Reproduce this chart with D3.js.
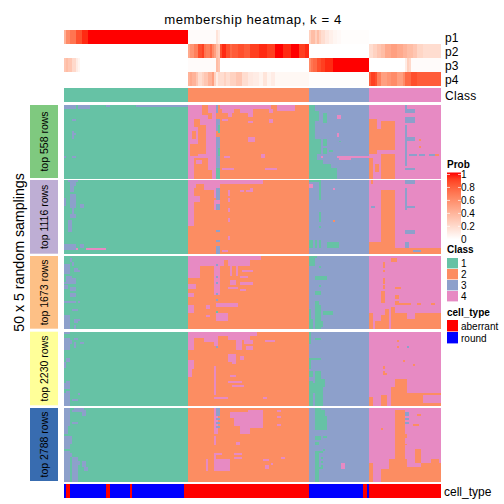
<!DOCTYPE html>
<html><head><meta charset="utf-8">
<script src="https://cdnjs.cloudflare.com/ajax/libs/d3/7.8.5/d3.min.js"></script>
<style>html,body{margin:0;padding:0;background:#fff}svg{display:block}text{font-family:"Liberation Sans",Arial,sans-serif;fill:#000}</style>
</head><body><svg id="c" width="504" height="504"></svg>
<script>
const groupSizes=[62,60,30,36];
const classColors=["#66C2A5","#FC8D62","#8DA0CB","#E78AC3"];
const classLabels=["1","2","3","4"];
const blockNames=["top 558 rows","top 1116 rows","top 1673 rows","top 2230 rows","top 2788 rows"];
const blockColors=["#7FC97F","#BEAED4","#FDC086","#FFFF99","#386CB0"];
const probTicks=[0,0.2,0.4,0.6,0.8,1];
const probNames=["p1","p2","p3","p4"];
const cellTypes=["aberrant","round"];
const cellColors=["#FF0000","#0000FF"];
// membership probabilities as [run length, value]
const p1=[[1,.4],[2,.6],[3,.7],[3,.85],[3,.95],[50,1],[14,.02],[1,.15],[1,.08],[44,0],[1,.25],[2,.35],[1,.25],[1,.35],[1,.25],[2,.18],[2,.12],[2,.08],[2,.05],[2,.03],[14,.01],[36,0]];
const p2=[[62,0],[1,.45],[2,.55],[2,.65],[2,.85],[1,.9],[1,.7],[2,.65],[1,.75],[1,.6],[1,.5],[1,.35],[1,.3],[1,.85],[2,.95],[2,.85],[1,.75],[3,.8],[3,.85],[3,.8],[4,.9],[4,.95],[4,.9],[4,1],[4,.95],[4,1],[3,.9],[2,.95],[30,0],[2,.18],[2,.24],[2,.3],[2,.35],[3,.45],[3,.5],[3,.45],[2,.4],[3,.35],[2,.3],[3,.22],[9,.18]];
const p3=[[1,.3],[1,.35],[2,.3],[2,.2],[1,.1],[1,.05],[54,0],[14,.02],[1,.35],[1,.3],[44,0],[1,.6],[1,.7],[2,.75],[2,.85],[2,.9],[4,.95],[18,1],[18,0],[1,.1],[1,.25],[1,.2],[15,.02]];
const p4=[[62,0],[1,.4],[1,.45],[2,.4],[1,.3],[2,.18],[1,.24],[2,.3],[2,.4],[1,.5],[1,.24],[1,.1],[3,.18],[1,.24],[2,.18],[3,.24],[3,.3],[3,.18],[2,.12],[3,.1],[2,.06],[2,.14],[2,.06],[2,.1],[17,.04],[30,.01],[1,.8],[2,.9],[1,.85],[2,.65],[3,.5],[2,.55],[3,.6],[3,.5],[1,.6],[3,.75],[3,.85],[12,.8]];
// cell type as [run length, index]
const cellRuns=[[1,1],[2,0],[18,1],[2,0],[10,1],[1,0],[26,1],[62,0],[27,1],[2,0],[1,1],[36,0]];
// deviating cells: [group,row0,row1,col0,col1,class]
const dev558=[[0,0,1,0,5,3],[0,0,1,7,9,3],[0,0,1,10,12,3],[0,0,0,21,22,3],[0,0,0,36,61,3],[0,7,7,4,5,3],[0,13,16,4,4,3],[0,14,14,5,5,3],[0,26,26,0,0,3],[0,26,26,4,5,3],
[1,0,26,0,13,4],[1,0,4,7,9,2],[1,7,10,3,5,2],[1,10,24,5,8,2],[1,13,16,2,3,2],[1,20,25,1,4,2],[1,4,6,10,11,2],[1,26,36,0,2,4],[1,28,29,4,6,4],[1,27,32,10,13,4],[1,32,36,12,13,4],[1,0,3,14,14,3],[1,7,12,14,15,3],[1,16,31,14,15,3],[1,10,13,15,15,1],[1,22,25,15,15,1],[1,32,36,14,15,1],[1,0,1,16,40,4],[1,2,3,17,22,4],[1,2,3,26,30,4],[1,4,5,20,21,4],[1,2,5,30,31,4],[1,0,2,44,52,4],[1,7,7,17,19,4],[1,8,8,30,31,4],[1,16,18,30,32,4],[1,26,26,18,20,4],[1,25,26,36,37,4],[1,32,32,17,22,4],[1,32,32,38,43,4],[1,2,3,40,41,4],[1,7,8,40,41,4],
[2,0,36,0,2,1],[2,3,7,3,4,1],[2,4,7,7,8,1],[2,8,8,7,8,1],[2,17,36,3,3,1],[2,17,24,4,5,1],[2,17,20,7,8,1],[2,22,24,7,8,1],[2,23,23,10,11,1],[2,28,36,3,6,1],[2,30,36,7,10,1],[2,32,36,10,13,1],[2,5,6,14,15,4],[2,14,15,14,14,4],[2,18,18,15,15,1],[2,26,26,6,6,4],[2,26,26,14,29,4],[2,27,27,15,20,4],
[3,7,24,0,3,2],[3,8,22,6,12,2],[3,12,22,4,5,2],[3,27,36,0,1,2],[3,25,36,6,12,2],[3,30,33,3,4,2],[3,0,3,18,18,3],[3,2,3,18,22,3],[3,6,8,18,22,3],[3,10,24,18,18,3],[3,16,17,18,22,3],[3,25,30,18,18,3],[3,25,25,20,23,3],[3,25,25,25,27,3],[3,25,25,30,32,3],[3,25,25,33,34,2],[3,17,17,25,25,2],[3,21,21,25,25,2],[3,32,32,18,22,3]];
const dev1116=[[0,0,0,2,6,3],[0,1,2,3,5,3],[0,3,5,3,4,3],[0,7,13,3,5,3],[0,9,12,0,0,3],[0,12,13,8,9,3],[0,17,18,3,5,3],[0,20,25,2,3,3],[0,13,16,4,4,3],[0,32,34,0,5,3],[0,32,33,8,9,3],[0,34,34,6,6,4],[0,34,34,11,20,4],
[1,0,1,0,36,4],[1,1,3,0,3,4],[1,2,4,8,14,4],[1,4,22,0,2,4],[1,0,8,13,15,4],[1,10,14,13,15,4],[1,5,5,26,27,4],[1,5,5,29,30,4],[1,4,5,31,31,4],[1,4,9,14,15,3],[1,12,14,14,15,3],[1,25,25,14,15,3],[1,30,30,14,15,3],[1,33,36,14,15,3],[1,35,35,17,19,4],[1,5,7,20,20,4],[1,9,10,20,20,4],[1,14,15,20,20,4],[1,19,20,20,20,4],[1,28,29,20,20,4],[1,8,10,3,5,4],
[2,0,0,0,5,1],[2,0,9,5,5,1],[2,16,20,5,5,1],[2,23,23,5,5,1],[2,30,33,5,5,1],[2,30,33,0,1,1],[2,30,33,3,3,1],[2,31,33,9,14,1],[2,2,3,0,1,4],[2,4,4,12,12,4],[2,20,20,12,12,2],
[3,5,30,6,12,2],[3,31,36,0,12,2],[3,34,36,13,36,2],[3,0,1,18,22,3],[3,0,1,1,1,2],[3,4,14,18,18,3],[3,13,13,18,22,3],[3,25,26,18,22,3],[3,31,33,18,19,3],[3,35,35,22,25,3],[3,13,13,1,2,3]];
const dev1673=[[0,4,8,0,2,3],[0,6,7,5,6,3],[0,10,12,1,3,3],[0,11,13,4,5,3],[0,13,13,0,3,3],[0,15,16,0,1,3],[0,16,17,3,5,3],[0,19,20,3,5,3],[0,23,23,0,3,3],[0,23,23,4,5,3],[0,23,23,7,7,3],[0,27,27,4,6,3],[0,30,36,0,2,3],[0,32,33,5,6,3],[0,35,36,5,5,3],[0,32,32,7,7,3],[0,7,7,7,7,3],[0,1,2,3,3,3],[0,3,4,4,4,3],
[1,0,4,0,13,4],[1,5,10,0,5,4],[1,0,19,13,15,4],[1,0,1,16,35,4],[1,2,4,16,17,4],[1,2,4,20,30,4],[1,5,9,21,21,4],[1,5,9,24,24,4],[1,7,7,27,31,4],[1,10,10,26,29,4],[1,13,14,26,31,4],[1,17,17,26,28,4],[1,12,14,21,23,4],[1,16,16,20,24,4],[1,29,32,14,19,4],[1,24,25,14,24,4],[1,25,28,0,2,4],[1,19,20,0,2,4],[1,14,16,0,3,4],[1,25,26,9,10,4],[1,30,30,9,10,4],[1,4,4,14,14,3],[1,10,10,14,14,3],[1,13,13,14,14,3],[1,19,19,14,14,3],[1,22,22,14,14,3],[1,28,28,14,14,1],[1,29,29,37,39,2],
[2,0,4,0,2,1],[2,0,0,2,3,1],[2,5,5,5,5,1],[2,25,36,3,5,1],[2,27,31,0,0,1],[2,28,29,7,11,1],[2,10,11,3,8,1],[2,15,15,5,5,1],[2,23,24,3,4,1],[2,33,35,3,6,1],[2,32,36,0,1,1],[2,18,19,3,5,1],
[3,1,2,11,13,2],[3,3,5,7,7,2],[3,7,7,7,7,2],[3,11,13,7,7,2],[3,15,16,7,7,2],[3,16,16,13,15,2],[3,18,23,6,7,2],[3,20,21,13,14,2],[3,24,24,13,20,2],[3,23,24,13,14,2],[3,24,24,24,25,2],[3,24,24,31,32,2],[3,29,36,0,1,2],[3,30,36,6,7,2],[3,27,36,8,9,2],[3,26,36,11,12,2],[3,29,36,13,18,2],[3,32,36,19,22,2],[3,29,36,23,36,2],[3,33,36,3,5,2]];
const dev2230=[[0,0,0,0,2,3],[0,3,3,0,2,3],[0,3,3,5,6,3],[0,4,8,0,2,3],[0,4,5,3,3,3],[0,5,5,5,5,3],[0,5,5,8,9,3],[0,6,7,5,5,3],[0,13,14,1,2,3],[0,15,17,0,0,3],[0,25,25,1,2,3],[0,26,28,0,2,3],[0,30,31,1,2,3],[0,31,36,0,2,3],[0,31,31,7,7,3],[0,34,34,4,6,3],
[1,0,4,0,13,4],[1,3,12,3,7,2],[1,5,8,0,2,4],[1,0,6,13,14,4],[1,0,1,14,33,4],[1,2,3,20,30,4],[1,1,8,24,26,4],[1,4,5,28,31,4],[1,7,8,29,31,4],[1,11,14,20,23,4],[1,12,13,26,27,4],[1,15,15,22,23,4],[1,7,7,14,14,3],[1,33,33,13,19,4],[1,33,33,37,38,4],[1,4,4,38,42,4],[1,17,31,13,13,4],[1,22,22,21,23,4],[1,25,25,20,26,4],[1,27,27,22,27,4],[1,14,18,0,2,4],[1,17,22,0,1,4],
[2,0,5,0,0,1],[2,3,3,3,5,1],[2,13,13,0,5,1],[2,14,18,0,0,1],[2,20,22,0,1,1],[2,20,30,3,5,1],[2,25,36,0,1,1],[2,28,36,3,6,1],[2,24,27,6,7,1],[2,26,30,2,6,1],
[3,33,36,0,1,2],[3,32,36,6,8,2],[3,24,36,13,18,2],[3,28,36,11,14,2],[3,31,36,19,26,2],[3,31,31,27,36,2],[3,36,36,27,36,2],[3,17,18,7,7,2],[3,20,21,7,7,2],[3,21,21,8,8,2],[3,4,4,14,14,2],[3,7,7,14,14,2],[3,7,7,19,19,3],[3,14,14,17,17,2],[3,16,16,22,22,2]];
const dev2788=[[0,0,3,0,2,3],[0,4,8,0,2,3],[0,1,1,4,10,3],[0,7,12,0,1,3],[0,14,20,0,2,3],[0,14,17,0,3,3],[0,22,36,0,2,3],[0,25,36,4,6,3],[0,27,28,5,7,3],[0,32,36,5,6,3],[0,2,3,9,10,3],[0,0,1,5,9,3],[0,7,7,4,6,3],[0,27,29,9,10,3],[0,30,31,10,11,3],[0,23,24,1,3,3],
[1,0,12,13,14,4],[1,0,3,14,15,3],[1,5,5,14,15,3],[1,7,7,14,15,3],[1,9,9,14,15,3],[1,2,4,21,30,4],[1,5,8,23,30,4],[1,9,12,26,30,4],[1,1,9,30,36,4],[1,1,1,44,45,4],[1,4,4,44,45,4],[1,8,8,44,45,4],[1,14,18,13,13,4],[1,23,23,13,16,4],[1,24,26,13,13,4],[1,26,31,13,20,4],[1,26,31,9,9,4],[1,17,18,24,25,4],[1,23,23,23,26,4],[1,25,25,23,26,4],[1,29,30,38,39,4],[1,26,26,37,39,4],[1,28,28,41,41,4],[1,25,25,46,47,4],
[2,0,10,3,5,1],[2,1,3,3,7,1],[2,4,5,3,8,1],[2,6,10,3,8,1],[2,14,15,3,5,1],[2,17,18,3,4,1],[2,14,14,7,8,1],[2,21,21,7,7,1],[2,22,22,3,6,1],[2,23,36,3,4,1],[2,25,25,6,6,1],[2,27,27,6,6,1],[2,29,29,6,6,1],[2,30,30,3,6,1],[2,28,30,16,17,4],
[3,1,29,13,17,2],[3,26,36,10,18,2],[3,30,36,18,36,2],[3,28,29,26,36,2],[3,26,29,31,34,2],[3,21,27,23,25,2],[3,28,36,0,1,2],[3,31,36,6,9,2],[3,2,3,18,19,3],[3,5,5,18,19,3],[3,7,7,18,19,3],[3,3,3,24,25,2],[3,8,8,22,24,2],[3,10,10,6,6,2],[3,13,14,18,18,2],[3,18,18,18,18,2]];
const deviations=[dev558,dev1116,dev1673,dev2230,dev2788];
const nRows=37;

const expand=runs=>runs.flatMap(([n,v])=>d3.range(n).map(()=>v));
const svg=d3.select("#c");
const nCols=d3.sum(groupSizes);
const offsets=d3.cumsum([0,...groupSizes]);
const x=d3.scaleBand().domain(d3.range(nCols)).range([64,441]);
const w=x.bandwidth();
const prob=d3.scaleLinear().domain([0,1]).range(["#ffffff","#ff0000"]).interpolate(d3.interpolateLab);

svg.append("text").attr("x",253).attr("y",23.5).attr("text-anchor","middle").style("font-size","13.2px").style("letter-spacing","0.55px").text("membership heatmap, k = 4");

// top annotation rows
const annY=d3.scaleBand().domain(probNames).range([30,86]);
[p1,p2,p3,p4].forEach((runs,i)=>{
  const vals=expand(runs);
  svg.append("g").attr("shape-rendering","crispEdges").selectAll("rect").data(vals).join("rect")
    .attr("x",(d,j)=>x(j)).attr("width",w+.3).attr("y",annY(probNames[i])).attr("height",annY.bandwidth()).attr("fill",d=>prob(d));
  svg.append("text").attr("x",445).attr("y",annY(probNames[i])+annY.bandwidth()/2+4.5).style("font-size","12px").text(probNames[i]);
});
// Class row
svg.append("g").attr("shape-rendering","crispEdges").selectAll("rect").data(groupSizes).join("rect")
  .attr("x",(d,i)=>x(offsets[i])).attr("width",d=>d*w).attr("y",88).attr("height",14).attr("fill",(d,i)=>classColors[i]);
svg.append("text").attr("x",445).attr("y",99.5).style("font-size","12px").style("letter-spacing","0.3px").text("Class");

// blocks
const blocks=[[105,178],[180,253.7],[256,328.7],[331.7,405.3],[408,481]];
blocks.forEach(([t,b],k)=>{
  const y=d3.scaleBand().domain(d3.range(nRows)).range([t,b]);
  const grid=d3.range(nRows).map(()=>{
    const row=[];groupSizes.forEach((s,g)=>{for(let i=0;i<s;i++)row.push(g+1)});return row;});
  deviations[k].forEach(([g,r0,r1,c0,c1,cl])=>{
    for(let r=r0;r<=r1;r++)for(let c=c0;c<=c1;c++)grid[r][offsets[g]+c]=cl;});
  const runs=[];
  grid.forEach((row,r)=>{let s=0;for(let c=1;c<=nCols;c++){if(c===nCols||row[c]!==row[s]){runs.push({r,s,n:c-s,cl:row[s]});s=c;}}});
  svg.append("g").attr("shape-rendering","crispEdges").selectAll("rect").data(runs).join("rect")
    .attr("x",d=>x(d.s)).attr("width",d=>d.n*w+.2).attr("y",d=>y(d.r)).attr("height",y.bandwidth()+.5).attr("fill",d=>classColors[d.cl-1]);
  svg.append("rect").attr("x",30).attr("width",28).attr("y",t).attr("height",b-t).attr("fill",blockColors[k]);
  svg.append("text").attr("transform",`translate(48,${(t+b)/2}) rotate(-90)`).attr("text-anchor","middle").style("font-size","10.5px").text(blockNames[k]);
});
svg.append("text").attr("transform","translate(23.5,252.5) rotate(-90)").attr("text-anchor","middle").style("font-size","14.2px").text("50 x 5 random samplings");

// cell type row
const ct=expand(cellRuns);
svg.append("g").attr("shape-rendering","crispEdges").selectAll("rect").data(ct).join("rect")
  .attr("x",(d,i)=>x(i)).attr("width",w+.3).attr("y",484).attr("height",14).attr("fill",d=>cellColors[d]);
svg.append("text").attr("x",444).attr("y",496).style("font-size","12px").text("cell_type");

// legends
const defs=svg.append("defs");
const grad=defs.append("linearGradient").attr("id","pg").attr("x1",0).attr("x2",0).attr("y1",1).attr("y2",0);
d3.range(0,1.01,.1).forEach(v=>grad.append("stop").attr("offset",v).attr("stop-color",prob(v)));
const ly=d3.scaleLinear().domain([0,1]).range([239.3,174.5]);
const bold=(t,yy)=>svg.append("text").attr("x",447).attr("y",yy).style("font-size","10px").style("font-weight","bold").text(t);
bold("Prob",168);
svg.append("rect").attr("x",447).attr("y",ly(1)-2).attr("width",14).attr("height",ly(0)-ly(1)+2).attr("fill","url(#pg)");
probTicks.forEach(v=>{
  svg.append("line").attr("x1",447).attr("x2",450).attr("y1",ly(v)).attr("y2",ly(v)).attr("stroke","#fff").attr("stroke-width",.7);
  svg.append("line").attr("x1",458).attr("x2",461).attr("y1",ly(v)).attr("y2",ly(v)).attr("stroke","#fff").attr("stroke-width",.7);
  svg.append("text").attr("x",461).attr("y",ly(v)+3.6).style("font-size","10px").text(String(v));
});
bold("Class",253);
const sy=d3.scaleBand().domain(d3.range(4)).range([258,302]);
classLabels.forEach((l,i)=>{
  svg.append("rect").attr("x",447).attr("y",sy(i)).attr("width",11).attr("height",sy.bandwidth()-.6).attr("fill",classColors[i]);
  svg.append("text").attr("x",461).attr("y",sy(i)+9).style("font-size","10px").text(l);
});
bold("cell_type",316);
const cy=d3.scaleBand().domain(d3.range(2)).range([320,344]);
cellTypes.forEach((l,i)=>{
  svg.append("rect").attr("x",447).attr("y",cy(i)).attr("width",11).attr("height",cy.bandwidth()-.6).attr("fill",cellColors[i]);
  svg.append("text").attr("x",461).attr("y",cy(i)+9.5).style("font-size","10px").text(l);
});
</script></body></html>
